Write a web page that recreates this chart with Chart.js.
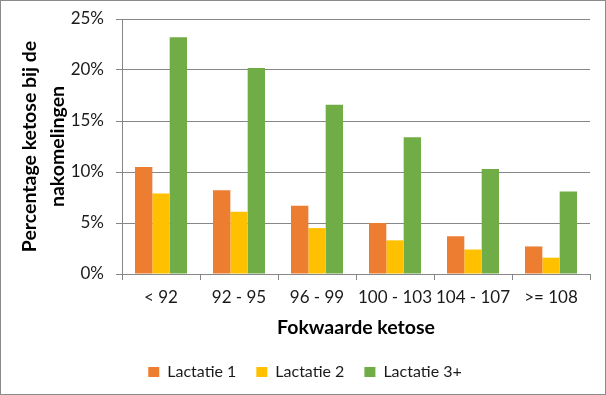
<!DOCTYPE html>
<html>
<head>
<meta charset="utf-8">
<script src="https://cdn.jsdelivr.net/npm/chart.js@4/dist/chart.umd.min.js"></script>
<style>
  html, body { margin: 0; padding: 0; background: #fff; }
  #wrap { width: 606px; height: 395px; position: relative; }
</style>
</head>
<body>
<div id="wrap"><canvas id="c" width="606" height="395"></canvas></div>
<script>
const categories = ['< 92', '92 - 95', '96 - 99', '100 - 103', '104 - 107', '>= 108'];
const lactatie1 = [10.5, 8.2, 6.7, 5.0, 3.7, 2.7];
const lactatie2 = [7.9, 6.1, 4.5, 3.3, 2.4, 1.6];
const lactatie3 = [23.2, 20.2, 16.6, 13.4, 10.3, 8.1];
const seriesNames = ['Lactatie 1', 'Lactatie 2', 'Lactatie 3+'];
const yTicks = [0, 5, 10, 15, 20, 25];

const FONT = 'Lato, "Noto Sans", sans-serif';
const GRID = '#878787';
const TEXT = '#1a1a1a';

const borderPlugin = {
  id: 'outerBorder',
  afterDraw(chart) {
    const ctx = chart.ctx;
    ctx.save();
    ctx.strokeStyle = '#8a8a8a';
    ctx.lineWidth = 1;
    ctx.strokeRect(0.5, 0.5, chart.width - 1, chart.height - 1);
    ctx.restore();
  }
};

new Chart(document.getElementById('c'), {
  type: 'bar',
  data: {
    labels: categories,
    datasets: [
      { label: seriesNames[0], data: lactatie1, backgroundColor: '#ED7D31' },
      { label: seriesNames[1], data: lactatie2, backgroundColor: '#FFC000' },
      { label: seriesNames[2], data: lactatie3, backgroundColor: '#70AD47' }
    ]
  },
  options: {
    responsive: false,
    animation: false,
    devicePixelRatio: 1,
    datasets: { bar: { categoryPercentage: 0.667, barPercentage: 1.0 } },
    layout: { padding: { left: 4, right: 0, top: 19, bottom: 5 } },
    plugins: {
      tooltip: { enabled: false },
      legend: {
        position: 'bottom',
        labels: {
          boxWidth: 11,
          boxHeight: 10,
          padding: 20,
          color: TEXT,
          font: { family: FONT, size: 16 }
        }
      }
    },
    scales: {
      x: {
        afterFit(s) { s.height = 70; s.paddingLeft = 0; s.paddingRight = 0; },
        grid: { display: true, drawOnChartArea: false, drawTicks: true, tickLength: 6, color: GRID, offset: true },
        border: { display: true, color: GRID },
        ticks: { color: TEXT, font: { family: FONT, size: 17 }, padding: 7, maxRotation: 0, autoSkip: false },
        title: {
          display: true,
          text: 'Fokwaarde ketose',
          color: '#000',
          font: { family: FONT, size: 19.5, weight: 'bold', lineHeight: 1.2 },
          padding: { top: 0, bottom: 5 }
        }
      },
      y: {
        min: 0,
        max: 25,
        afterFit(s) { s.width = 118; s.paddingTop = 0; s.paddingBottom = 0; },
        afterBuildTicks(s) { s.ticks = yTicks.map(v => ({ value: v })); },
        grid: { color: GRID, drawTicks: true, tickLength: 6, lineWidth: 1 },
        border: { display: true, color: GRID },
        ticks: {
          color: TEXT,
          font: { family: FONT, size: 17 },
          padding: 12,
          callback: v => v + '%'
        },
        title: {
          display: true,
          text: ['Percentage ketose bij de', 'nakomelingen'],
          color: '#000',
          font: { family: FONT, size: 19.5, weight: 'bold', lineHeight: 1.47 },
          padding: { top: 11, bottom: 0 }
        }
      },
      yRight: {
        position: 'right',
        display: true,
        afterFit(s) { s.width = 16; s.paddingTop = 0; s.paddingBottom = 0; },
        grid: { display: false, drawTicks: false },
        border: { display: false },
        ticks: { display: false }
      }
    }
  },
  plugins: [borderPlugin]
});
</script>
</body>
</html>
